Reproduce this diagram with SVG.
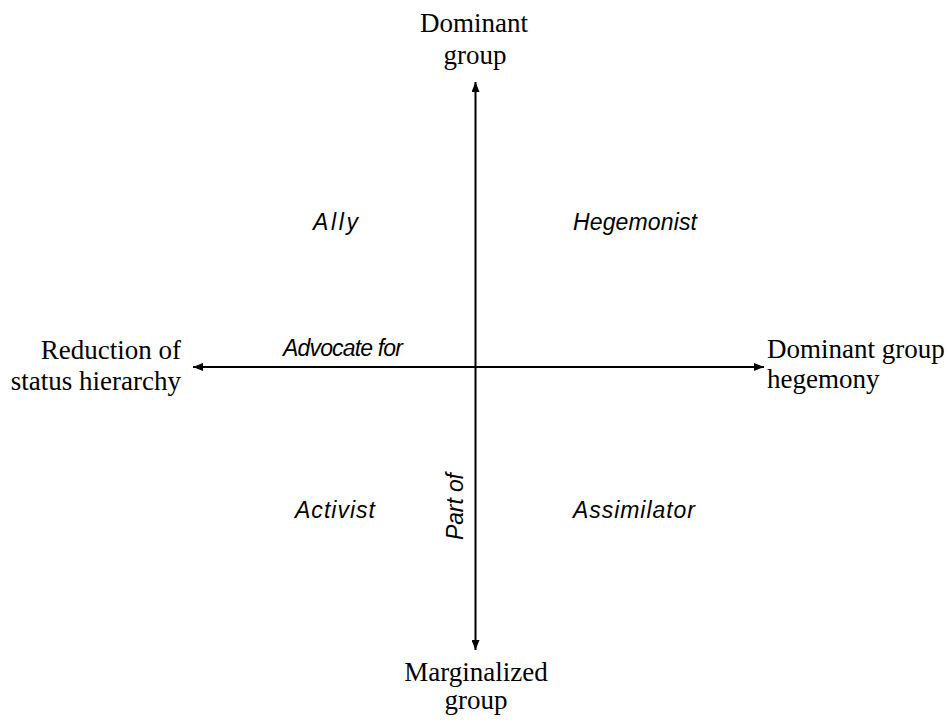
<svg xmlns="http://www.w3.org/2000/svg" width="948" height="720" viewBox="0 0 948 720">
<style>
.serif{font-family:"Liberation Serif","Times New Roman",serif;font-size:27px;fill:#000}
.lab{font-family:"Liberation Sans",Arial,sans-serif;font-size:23px;font-style:italic;fill:#000}
.axis{stroke:#000;stroke-width:2;fill:none}
</style>
<defs>
<marker id="ah" viewBox="0 0 10 8" refX="10" refY="4" markerWidth="10" markerHeight="8" markerUnits="userSpaceOnUse" orient="auto-start-reverse">
<path d="M0,0 L10,4 L0,8 Z" fill="#000"/>
</marker>
</defs>
<rect width="948" height="720" fill="#fff"/>
<g id="connectors">
<line class="axis" x1="475.5" y1="82" x2="475.5" y2="650" marker-start="url(#ah)" marker-end="url(#ah)"/>
<line class="axis" x1="193" y1="367" x2="764" y2="367" marker-start="url(#ah)" marker-end="url(#ah)"/>
</g>
<g id="top">
<text class="serif" x="474" y="32" text-anchor="middle">Dominant</text>
<text class="serif" x="475" y="64" text-anchor="middle">group</text>
</g>
<g id="bottom">
<text class="serif" x="476" y="681" text-anchor="middle">Marginalized</text>
<text class="serif" x="476" y="709" text-anchor="middle">group</text>
</g>
<g id="left">
<text class="serif" x="181" y="359" text-anchor="end">Reduction of</text>
<text class="serif" x="181" y="390" text-anchor="end">status hierarchy</text>
</g>
<g id="right">
<text class="serif" x="767" y="358">Dominant group</text>
<text class="serif" x="767" y="388">hegemony</text>
</g>
<g id="ally"><text class="lab" x="313" y="230" textLength="45" lengthAdjust="spacing">Ally</text></g>
<g id="hegemonist"><text class="lab" x="573" y="230" textLength="124" lengthAdjust="spacing">Hegemonist</text></g>
<g id="activist"><text class="lab" x="295" y="518" textLength="80" lengthAdjust="spacing">Activist</text></g>
<g id="assimilator"><text class="lab" x="573" y="518" textLength="122" lengthAdjust="spacing">Assimilator</text></g>
<g id="advocate"><text class="lab" x="283" y="356" textLength="120" lengthAdjust="spacing">Advocate for</text></g>
<g id="partof"><text class="lab" transform="translate(463,540) rotate(-90)" x="0" y="0" textLength="67" lengthAdjust="spacing">Part of</text></g>
</svg>
